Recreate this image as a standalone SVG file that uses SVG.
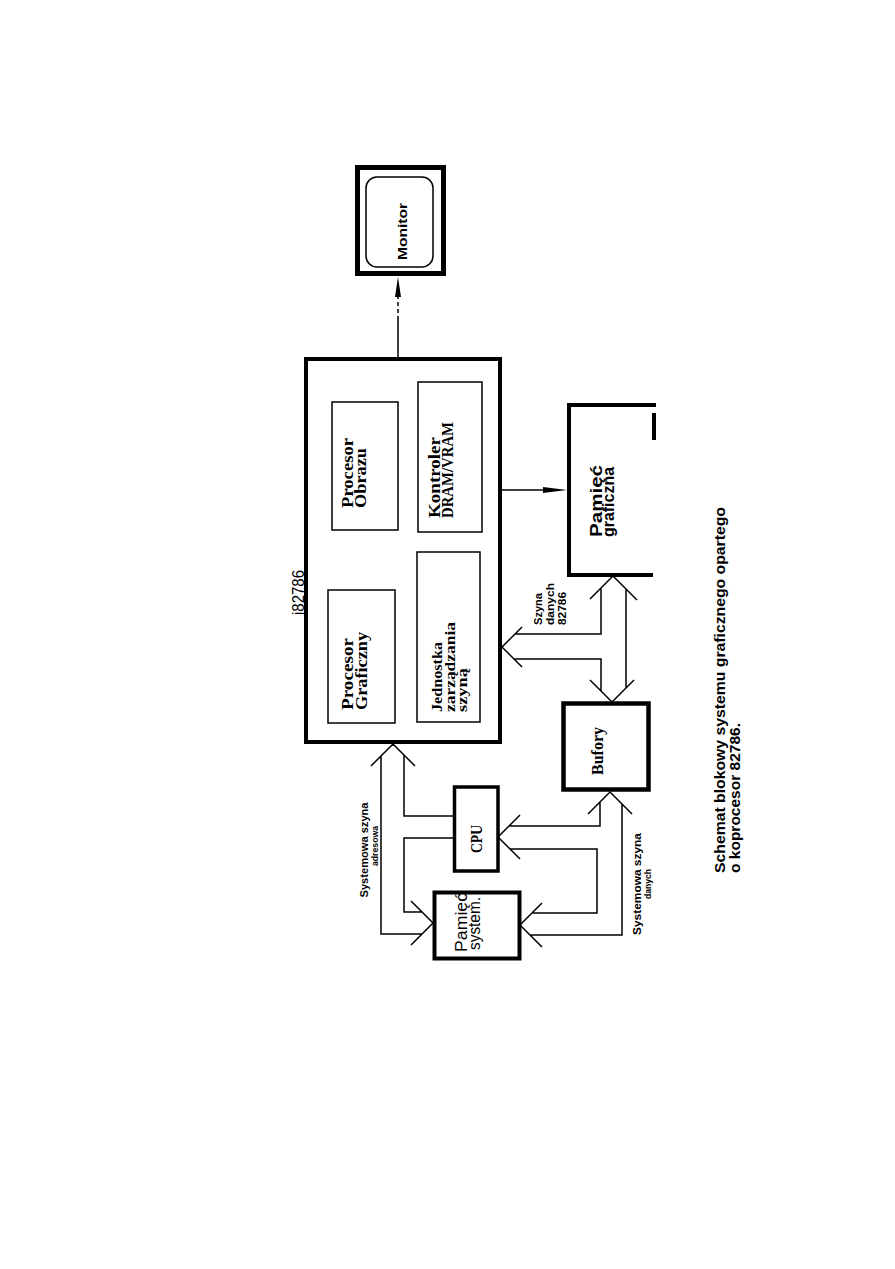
<svg xmlns="http://www.w3.org/2000/svg" width="895" height="1269" viewBox="0 0 895 1269">
<style>
.thick{fill:none;stroke:#000;stroke-width:4}
.thin{fill:none;stroke:#000;stroke-width:1.5}
.bus{fill:none;stroke:#000;stroke-width:1.5;stroke-linejoin:miter}
.serif{font-family:"Liberation Serif","Times New Roman",serif;font-weight:bold;fill:#000}
.sans{font-family:"Liberation Sans",Arial,sans-serif;font-weight:bold;fill:#000}
.plain{font-family:"Liberation Sans",Arial,sans-serif;font-weight:normal;fill:#000}
</style>
<rect x="0" y="0" width="895" height="1269" fill="#fff"/>

<g id="connectors">
  <line x1="398" y1="357" x2="398" y2="320" class="thin"/>
  <line x1="398" y1="320" x2="398" y2="296" class="thin" stroke-dasharray="4 3"/>
  <polygon points="398,277 395,297 401,297" fill="#000"/>
  <line x1="502" y1="490" x2="545" y2="490" class="thin"/>
  <polygon points="567,490 543,487 543,493" fill="#000"/>
  <!-- 82786 data bus -->
  <path class="bus" d="M590,599 L613,576 L637,600 M601,588 L601,634 L515,634 M522,627 L502,647 L522,667 M514,659 L601,659 L601,691 M590,680 L612,702 L634,680 M626,589 L626,688"/>
  <!-- system data bus -->
  <path class="bus" d="M588,814 L610,792 L632,814 M600,802 L600,826 L509,826 M520,815 L498,837 L520,859 M510,849 L597,849 L597,913 L532,913 M542,903 L520,925 L542,947 M530,935 L622,935 L622,804"/>
  <!-- system address bus -->
  <path class="bus" d="M371,766 L393,744 L415,766 M381,756 L381,934 L422,934 M404,755 L404,816 L454,816 M454,838 L404,838 L404,912 L422,912 M411,901 L433,923 L411,945"/>
</g>

<g id="labels">
  <text class="sans" font-size="10.5" transform="translate(542,625) rotate(-90)" textLength="32" lengthAdjust="spacingAndGlyphs">Szyna</text>
  <text class="sans" font-size="10.5" transform="translate(554,625) rotate(-90)" textLength="42" lengthAdjust="spacingAndGlyphs">danych</text>
  <text class="sans" font-size="10.5" transform="translate(566,625) rotate(-90)" textLength="33" lengthAdjust="spacingAndGlyphs">82786</text>
  <text class="sans" font-size="10" text-anchor="middle" transform="translate(368,850) rotate(-90)" textLength="95" lengthAdjust="spacingAndGlyphs">Systemowa szyna</text>
  <text class="sans" font-size="9" text-anchor="middle" transform="translate(378,846) rotate(-90)" textLength="40" lengthAdjust="spacingAndGlyphs">adresowa</text>
  <text class="sans" font-size="10" text-anchor="middle" transform="translate(641,884) rotate(-90)" textLength="102" lengthAdjust="spacingAndGlyphs">Systemowa szyna</text>
  <text class="sans" font-size="9" text-anchor="middle" transform="translate(651,884) rotate(-90)" textLength="30" lengthAdjust="spacingAndGlyphs">danych</text>
</g>

<g id="monitor">
  <rect x="357.5" y="167.5" width="86" height="106" fill="none" stroke="#000" stroke-width="5"/>
  <rect x="366" y="177" width="67" height="90" rx="11" class="thin"/>
  <text class="sans" font-size="13" transform="translate(407,260) rotate(-90)" textLength="57" lengthAdjust="spacingAndGlyphs">Monitor</text>
</g>

<g id="i82786">
  <rect x="306" y="359" width="194" height="383" class="thick"/>
  <text class="plain" font-size="16" transform="translate(304,615) rotate(-90)" textLength="45" lengthAdjust="spacingAndGlyphs">i82786</text>
</g>

<g id="procesor-obrazu">
  <rect x="332" y="402" width="66" height="128" class="thin"/>
  <text class="serif" font-size="16" transform="translate(353,508) rotate(-90)" textLength="70" lengthAdjust="spacingAndGlyphs">Procesor</text>
  <text class="serif" font-size="16" transform="translate(366,508) rotate(-90)" textLength="60" lengthAdjust="spacingAndGlyphs">Obrazu</text>
</g>

<g id="kontroler">
  <rect x="418" y="382" width="64" height="150" class="thin"/>
  <text class="serif" font-size="16" transform="translate(440,518) rotate(-90)" textLength="81" lengthAdjust="spacingAndGlyphs">Kontroler</text>
  <text class="serif" font-size="16" transform="translate(453,518) rotate(-90)" textLength="96" lengthAdjust="spacingAndGlyphs">DRAM/VRAM</text>
</g>

<g id="procesor-graficzny">
  <rect x="328" y="590" width="67" height="133" class="thin"/>
  <text class="serif" font-size="16" transform="translate(353,710) rotate(-90)" textLength="72" lengthAdjust="spacingAndGlyphs">Procesor</text>
  <text class="serif" font-size="16" transform="translate(367,710) rotate(-90)" textLength="78" lengthAdjust="spacingAndGlyphs">Graficzny</text>
</g>

<g id="jednostka">
  <rect x="417" y="552" width="63" height="170" class="thin"/>
  <text class="serif" font-size="15" transform="translate(442,712) rotate(-90)" textLength="70" lengthAdjust="spacingAndGlyphs">Jednostka</text>
  <text class="serif" font-size="15" transform="translate(455,712) rotate(-90)" textLength="90" lengthAdjust="spacingAndGlyphs">zarządzania</text>
  <text class="serif" font-size="15" transform="translate(467,712) rotate(-90)" textLength="44" lengthAdjust="spacingAndGlyphs">szyną</text>
</g>

<g id="pamiec-graficzna">
  <path class="thick" d="M569,575 L569,405 L656,405 M567,575 L653,575 M654,413 L654,440"/>
  <text class="sans" font-size="17" transform="translate(602,537) rotate(-90)" textLength="72" lengthAdjust="spacingAndGlyphs">Pamięć</text>
  <text class="sans" font-size="17" transform="translate(614,537) rotate(-90)" textLength="70" lengthAdjust="spacingAndGlyphs">graficzna</text>
</g>

<g id="bufory">
  <rect x="563.5" y="703.5" width="85" height="86" fill="none" stroke="#000" stroke-width="4.5"/>
  <text class="serif" font-size="17" transform="translate(603,775) rotate(-90)" textLength="48" lengthAdjust="spacingAndGlyphs">Bufory</text>
</g>

<g id="cpu">
  <rect x="454.5" y="787" width="43.5" height="84" fill="none" stroke="#000" stroke-width="3.5"/>
  <text class="serif" font-size="16" transform="translate(482,853) rotate(-90)" textLength="28" lengthAdjust="spacingAndGlyphs">CPU</text>
</g>

<g id="pamiec-system">
  <rect x="434.5" y="892.5" width="85" height="66" class="thick"/>
  <text class="plain" font-size="16" transform="translate(467,952) rotate(-90)" textLength="59" lengthAdjust="spacingAndGlyphs">Pamięć</text>
  <text class="plain" font-size="16" transform="translate(480,950) rotate(-90)" textLength="53" lengthAdjust="spacingAndGlyphs">system.</text>
</g>

<g id="caption">
  <text class="sans" font-size="14" transform="translate(725,873) rotate(-90)" textLength="366" lengthAdjust="spacingAndGlyphs">Schemat blokowy systemu graficznego opartego</text>
  <text class="sans" font-size="14" transform="translate(740,873) rotate(-90)" textLength="150" lengthAdjust="spacingAndGlyphs">o koprocesor 82786.</text>
</g>
</svg>
